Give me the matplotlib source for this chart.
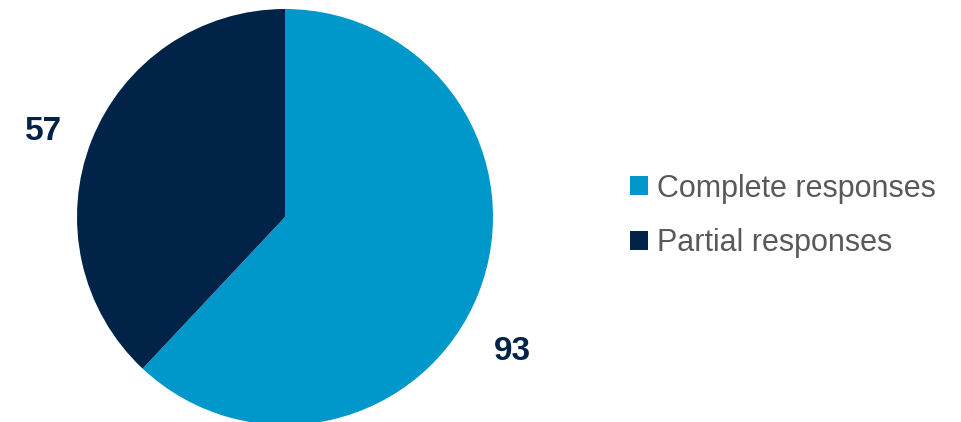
import matplotlib.pyplot as plt
import numpy as np

plt.rcParams['font.family'] = ['Liberation Sans', 'DejaVu Sans']

# data
categories = ['Complete responses', 'Partial responses']
values = [93, 57]
colors = ['#0097CA', '#002347']

W, H = 961, 422
fig = plt.figure(figsize=(W / 100, H / 100), dpi=100)

# pie centre (285, 217) px, radius 208 px
cx, cy, r = 285, 217, 208
ax = fig.add_axes([(cx - r) / W, (H - cy - r) / H, 2 * r / W, 2 * r / H])
wedges, _ = ax.pie(values, colors=colors, startangle=90, counterclock=False,
                   wedgeprops={'linewidth': 0})
ax.set_xlim(-1, 1)
ax.set_ylim(-1, 1)

# value labels, placed around each wedge mid angle
angleShift = [-9.0, 2.0]
labelDist = [1.27, 1.23]
for w, v, da, d in zip(wedges, values, angleShift, labelDist):
    mid = np.deg2rad((w.theta1 + w.theta2) / 2 + da)
    ax.text(d * np.cos(mid), d * np.sin(mid), str(v), ha='center', va='center',
            fontsize=24, fontweight='bold', color='#002347', clip_on=False)

leg = fig.legend(wedges, categories, loc='center left',
                 bbox_to_anchor=(630 / W, (H - 216) / H), frameon=False,
                 fontsize=22, handlelength=0.58, handleheight=0.58,
                 handletextpad=0.3, labelspacing=0.8, borderpad=0,
                 borderaxespad=0)
for t in leg.get_texts():
    t.set_color('#595959')

fig.savefig('out.png', dpi=100)
